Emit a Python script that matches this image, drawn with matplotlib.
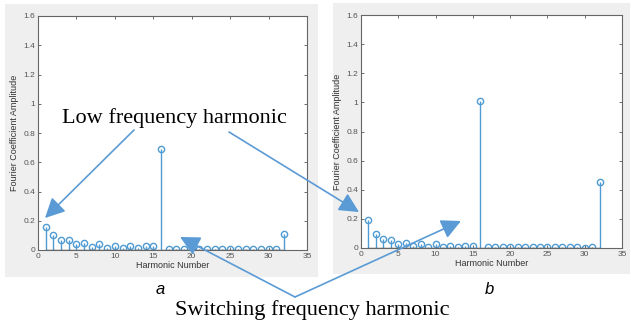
import matplotlib.pyplot as plt
import numpy as np
from matplotlib.patches import Rectangle, FancyArrowPatch

W, H = 631, 327

harmonics = np.arange(1, 33)
amp_a = [0.155, 0.105, 0.065, 0.065, 0.04, 0.045, 0.02, 0.04, 0.015, 0.03,
         0.015, 0.03, 0.015, 0.03, 0.03, 0.69, 0.01, 0.005, 0.005, 0.005,
         0.005, 0.005, 0.005, 0.005, 0.005, 0.005, 0.005, 0.005, 0.005, 0.005,
         0.005, 0.11]
amp_b = [0.195, 0.095, 0.06, 0.055, 0.03, 0.035, 0.015, 0.03, 0.01, 0.025,
         0.01, 0.015, 0.01, 0.015, 0.015, 1.01, 0.01, 0.01, 0.005, 0.005,
         0.005, 0.005, 0.005, 0.005, 0.005, 0.005, 0.005, 0.005, 0.005, 0.003,
         0.005, 0.45]

xticks = [0, 5, 10, 15, 20, 25, 30, 35]
yticks = [0, 0.2, 0.4, 0.6, 0.8, 1, 1.2, 1.4, 1.6]
yticklabels = ['0', '0.2', '0.4', '0.6', '0.8', '1', '1.2', '1.4', '1.6']

stem_c = '#4f9bd3'
arrow_c = '#5b9bd5'
tick_c = '#555555'

plt.rcParams['font.family'] = ['Liberation Sans', 'DejaVu Sans']

fig = plt.figure(figsize=(W / 100, H / 100), dpi=100)


def px_box(x0, y0, x1, y1):
    return [x0 / W, 1 - y1 / H, (x1 - x0) / W, (y1 - y0) / H]


# grey figure backgrounds of the two matlab panels
for (x0, y0, x1, y1) in [(5, 4, 318, 277), (333, 3, 630, 274)]:
    b = px_box(x0, y0, x1, y1)
    fig.patches.append(Rectangle((b[0], b[1]), b[2], b[3], transform=fig.transFigure,
                                 facecolor='#efefef', edgecolor='none', zorder=-1))


def panel(box, amps):
    ax = fig.add_axes(px_box(*box))
    ax.set_facecolor('white')
    ml, sl, bl = ax.stem(harmonics, amps, linefmt='-', markerfmt='o', basefmt='-')
    plt.setp(sl, color=stem_c, lw=1.0)
    plt.setp(ml, color=stem_c, markerfacecolor='none', markersize=4.5, mew=1.0)
    plt.setp(bl, color='#555555', lw=1.0)
    ax.set_xlim(0, 35)
    ax.set_ylim(0, 1.6)
    ax.set_xticks(xticks)
    ax.set_yticks(yticks)
    ax.set_yticklabels(yticklabels)
    ax.tick_params(direction='in', top=True, right=True, length=2.5, width=0.6,
                   labelsize=6, colors=tick_c, pad=2)
    for s in ax.spines.values():
        s.set_color('#666666')
        s.set_linewidth(0.8)
    ax.set_xlabel('Harmonic Number', fontsize=6.5, color='#333333', labelpad=1)
    ax.set_ylabel('Fourier Coefficient Amplitude', fontsize=6.5, color='#333333', labelpad=3)
    return ax


ax_a = panel((38, 16, 307, 250), amp_a)
ax_b = panel((361, 15, 622, 248), amp_b)

# overlay for annotations in pixel coordinates
ov = fig.add_axes([0, 0, 1, 1], zorder=10)
ov.set_xlim(0, W)
ov.set_ylim(H, 0)
ov.axis('off')
ov.patch.set_alpha(0)

ov.text(174, 118, 'Low frequency harmonic', family='Liberation Serif', fontsize=16,
        ha='center', va='center', color='black')
ov.text(312, 310, 'Switching frequency harmonic', family='Liberation Serif', fontsize=16,
        ha='center', va='center', color='black')
ov.text(160, 290, 'a', fontsize=12, style='italic', ha='center', va='center')
ov.text(489, 290, 'b', fontsize=12, style='italic', ha='center', va='center')

arrows = [((134, 130), (45, 218)),
          ((229, 132), (359, 212)),
          ((295, 297), (180, 237)),
          ((295, 297), (461, 221))]
for tail, tip in arrows:
    ov.add_patch(FancyArrowPatch(tail, tip, arrowstyle='-|>,head_length=1.2,head_width=0.6',
                                 mutation_scale=10, color=arrow_c, lw=1.2,
                                 shrinkA=0, shrinkB=0))

fig.savefig('out.png', dpi=100)
